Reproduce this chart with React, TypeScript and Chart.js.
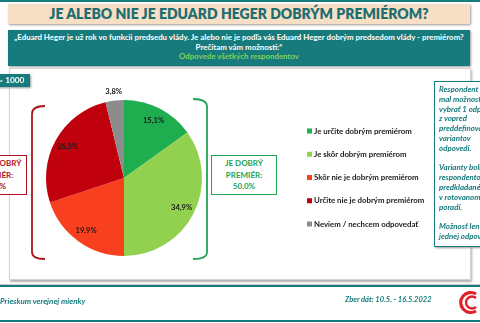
import React, { useEffect, useRef } from "react";
import { Chart, registerables } from "chart.js";

Chart.register(...registerables);

const categories = [
  "Je určite dobrým premiérom",
  "Je skôr dobrým premiérom",
  "Skôr nie je dobrým premiérom",
  "Určite nie je dobrým premiérom",
  "Neviem / nechcem odpovedať",
];
const values = [15.1, 34.9, 19.9, 26.3, 3.8];
const colors = ["#1fae4f", "#92d050", "#f8401f", "#c0000c", "#8c8c8c"];

const TEAL = "#177b7d";
const FONT = "Lato, 'Open Sans', sans-serif";

const fmt = (v: number) => v.toFixed(1).replace(".", ",") + "%";

const labelPlugin = {
  id: "sliceLabels",
  afterDatasetsDraw(chart: any) {
    const ctx = chart.ctx;
    const meta = chart.getDatasetMeta(0);
    ctx.save();
    ctx.font = `bold 7.6px ${FONT}`;
    ctx.fillStyle = "#1a1a1a";
    ctx.textAlign = "center";
    ctx.textBaseline = "middle";
    meta.data.forEach((arc: any, i: number) => {
      const { x, y, startAngle, endAngle, outerRadius } = arc.getProps(
        ["x", "y", "startAngle", "endAngle", "outerRadius"],
        true
      );
      const mid = (startAngle + endAngle) / 2;
      const f = values[i] < 5 ? 1.11 : 0.83;
      ctx.fillText(fmt(values[i]), x + Math.cos(mid) * outerRadius * f, y + Math.sin(mid) * outerRadius * f);
    });
    ctx.restore();
  },
};

const legendPlugin = {
  id: "sideLegend",
  afterDraw(chart: any) {
    const ctx = chart.ctx;
    ctx.save();
    ctx.font = `bold 7.8px ${FONT}`;
    ctx.textBaseline = "middle";
    ctx.textAlign = "left";
    categories.forEach((c, i) => {
      const y = 131 + i * 23.25;
      ctx.fillStyle = colors[i];
      ctx.fillRect(307, y - 2.5, 5, 5);
      ctx.fillStyle = "#1a1a1a";
      ctx.fillText(c, 314, y);
    });
    ctx.restore();
  },
};

function PieChart() {
  const ref = useRef<HTMLCanvasElement>(null);
  useEffect(() => {
    if (!ref.current) return;
    const chart = new Chart(ref.current, {
      type: "pie",
      data: {
        labels: categories,
        datasets: [{ data: values, backgroundColor: colors, borderWidth: 0 }],
      },
      options: {
        responsive: false,
        animation: false,
        events: [],
        layout: { padding: { left: 46, right: 278, top: 100, bottom: 67 } },
        plugins: { legend: { display: false }, tooltip: { enabled: false } },
      },
      plugins: [labelPlugin, legendPlugin],
    });
    return () => chart.destroy();
  }, []);
  return (
    <canvas
      ref={ref}
      width={480}
      height={323}
      style={{ position: "absolute", left: 0, top: 0, width: 480, height: 323 }}
    />
  );
}

const abs = (s: React.CSSProperties): React.CSSProperties => ({ position: "absolute", ...s });

export default function App() {
  const noteLines: string[] = [
    "Respondent",
    "mal možnosť",
    "vybrať 1 odpoveď",
    "z vopred",
    "preddefinovaných",
    "variantov",
    "odpovedí.",
    "",
    "Varianty boli",
    "respondentom",
    "predkladané",
    "v rotovanom",
    "poradí.",
    "",
    "Možnosť len",
    "jednej odpovede.",
  ];
  return (
    <div
      style={abs({
        left: 0,
        top: 0,
        width: 480,
        height: 323,
        overflow: "hidden",
        background: "#ffffff",
        fontFamily: FONT,
      })}
    >
      {/* top line */}
      <div style={abs({ left: 0, top: 0, width: 480, height: 2, background: TEAL })} />
      {/* title */}
      <div
        style={abs({
          left: 8,
          top: 4,
          width: 462,
          height: 20,
          background: "#f6dfc4",
          boxShadow: "1px 1px 2px #9a9a9a",
          color: "#1d6e73",
          fontWeight: 800,
          fontSize: 14,
          lineHeight: "20px",
          textAlign: "center",
        })}
      >
        JE ALEBO NIE JE EDUARD HEGER DOBRÝM PREMIÉROM?
      </div>
      {/* question */}
      <div
        style={abs({
          left: 8,
          top: 30,
          width: 462,
          height: 36,
          background: TEAL,
          boxShadow: "1px 1px 2px #9a9a9a",
          color: "#ffffff",
          fontWeight: 700,
          fontSize: 7.9,
          lineHeight: "9.5px",
          textAlign: "center",
          paddingTop: 3,
          boxSizing: "border-box",
          whiteSpace: "nowrap",
        })}
      >
        <div>„Eduard Heger je už rok vo funkcii predsedu vlády. Je alebo nie je podľa vás Eduard Heger dobrým predsedom vlády - premiérom?</div>
        <div>Prečítam vám možnosti:“</div>
        <div style={{ color: "#7dd35a" }}>Odpovede všetkých respondentov</div>
      </div>
      {/* panel */}
      <div
        style={abs({
          left: 9,
          top: 68,
          width: 462,
          height: 212,
          border: "1px solid #d4d4d4",
          boxShadow: "1px 2px 2px #b0b0b0",
          background: "#ffffff",
          boxSizing: "border-box",
        })}
      />
      <PieChart />
      {/* n = 1000 */}
      <div
        style={abs({
          left: -14,
          top: 74,
          width: 44,
          height: 13,
          background: TEAL,
          color: "#fff",
          fontWeight: 700,
          fontSize: 8.3,
          lineHeight: "13px",
          textAlign: "center",
          boxShadow: "1px 1px 2px #9a9a9a",
        })}
      >
        n = 1000
      </div>
      {/* brackets */}
      <svg width={480} height={323} style={abs({ left: 0, top: 0 })}>
        <path d="M45 106 Q32 106 32 114 L32 252 Q32 259 45 259" fill="none" stroke="#a8141c" strokeWidth={1.8} />
        <path d="M193 99 Q207 99 207 107 L207 252 Q207 259 193 259" fill="none" stroke="#22a455" strokeWidth={1.8} />
        {/* logo */}
        <path d="M476 294 A10 10 0 1 0 476 311" fill="none" stroke="#e0202a" strokeWidth={3.2} />
        <path d="M476 298 A6 6 0 1 0 476 307" fill="none" stroke="#e0202a" strokeWidth={2.4} />
      </svg>
      {/* red box */}
      <div
        style={abs({
          left: -37,
          top: 155,
          width: 64,
          height: 40,
          border: "1.5px solid #b0141e",
          boxSizing: "border-box",
          background: "#fff",
          color: "#b0141e",
          fontWeight: 700,
          fontSize: 8,
          lineHeight: "11.5px",
          textAlign: "center",
          paddingTop: 2,
        })}
      >
        <div>NIE JE DOBRÝ</div>
        <div>PREMIÉR:</div>
        <div>46,2%</div>
      </div>
      {/* green box */}
      <div
        style={abs({
          left: 211,
          top: 155,
          width: 66,
          height: 40,
          border: "1.5px solid #22a455",
          boxSizing: "border-box",
          background: "#fff",
          color: "#22a455",
          fontWeight: 700,
          fontSize: 8,
          lineHeight: "11.5px",
          textAlign: "center",
          paddingTop: 2,
        })}
      >
        <div>JE DOBRÝ</div>
        <div>PREMIÉR:</div>
        <div>50,0%</div>
      </div>
      {/* note box */}
      <div
        style={abs({
          left: 434,
          top: 81,
          width: 70,
          height: 166,
          border: `1.5px solid ${TEAL}`,
          boxSizing: "border-box",
          background: "#fff",
          boxShadow: "1px 1px 2px #9a9a9a",
          color: TEAL,
          fontWeight: 700,
          fontStyle: "italic",
          fontSize: 7.9,
          lineHeight: "9.8px",
          paddingLeft: 4,
          paddingTop: 3,
          whiteSpace: "nowrap",
        })}
      >
        {noteLines.map((l, i) => (
          <div key={i} style={{ height: 9.8 }}>{l}</div>
        ))}
      </div>
      {/* footer */}
      <div style={abs({ left: 0, top: 284, width: 480, height: 1, background: "#c8c8c8" })} />
      <div style={abs({ left: 0, top: 285, width: 480, height: 2, background: TEAL })} />
      <div style={abs({ left: 0, top: 320, width: 480, height: 2, background: TEAL })} />
      <div
        style={abs({
          left: 0,
          top: 296,
          color: TEAL,
          fontWeight: 700,
          fontStyle: "italic",
          fontSize: 8,
          lineHeight: "10px",
          whiteSpace: "nowrap",
        })}
      >
        Prieskum verejnej mienky
      </div>
      <div
        style={abs({
          left: 345,
          top: 295,
          color: TEAL,
          fontWeight: 700,
          fontStyle: "italic",
          fontSize: 7.5,
          lineHeight: "10px",
          whiteSpace: "nowrap",
        })}
      >
        Zber dát: 10.5. - 16.5.2022
      </div>
    </div>
  );
}
